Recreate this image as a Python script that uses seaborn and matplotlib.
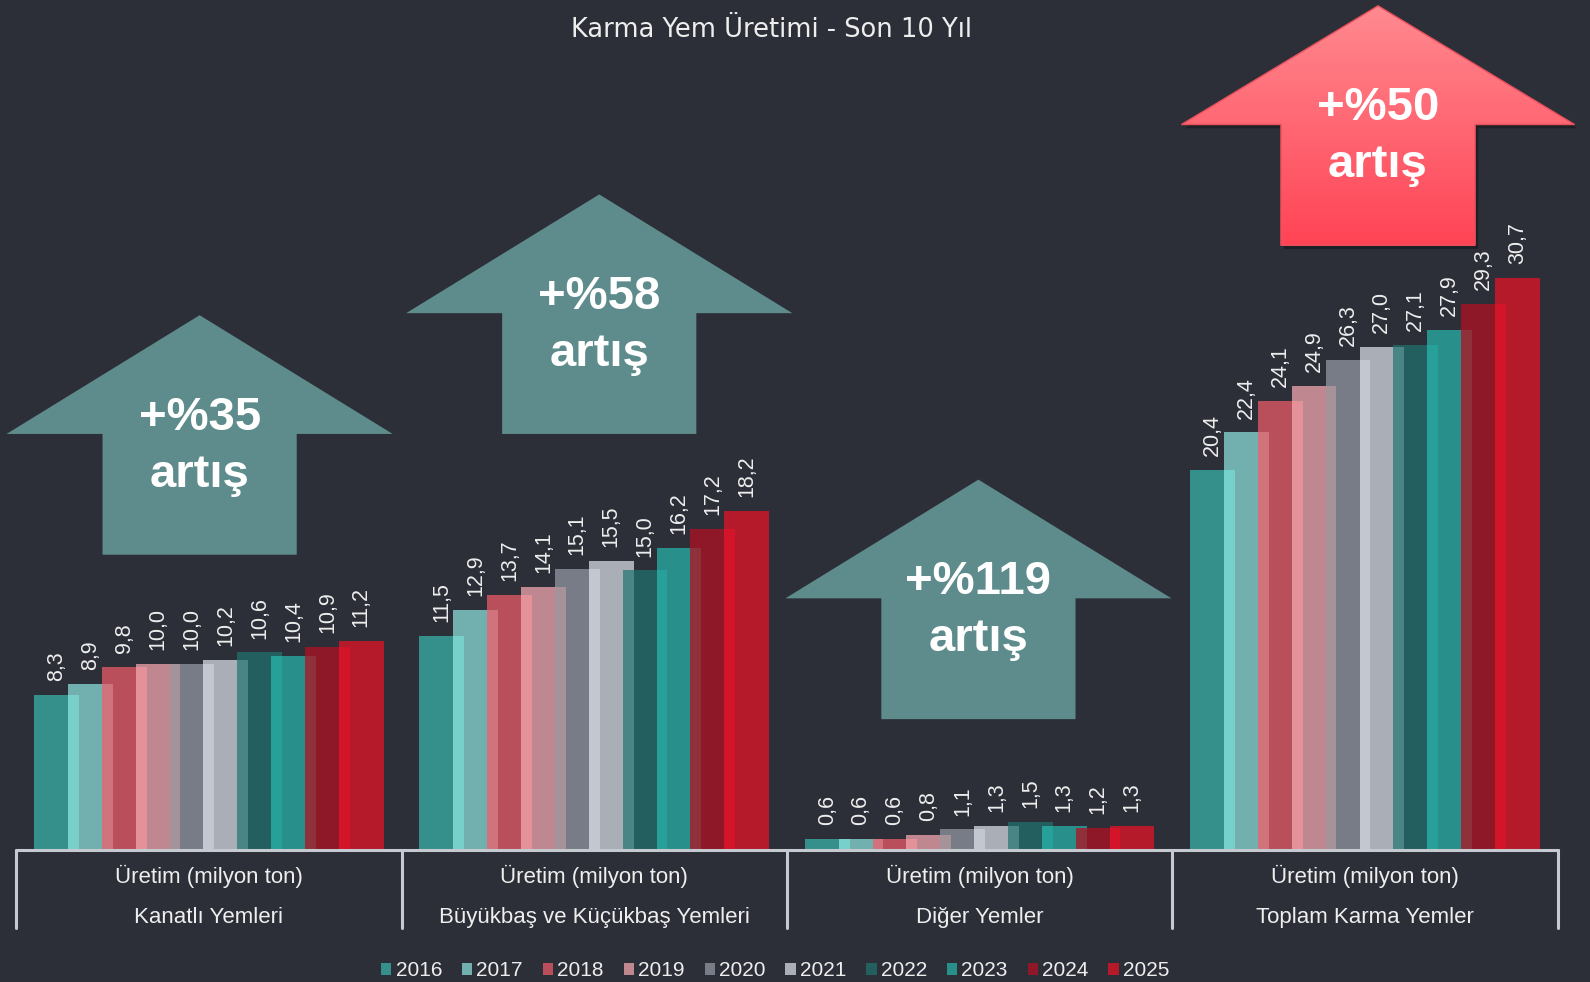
import numpy as np
import pandas as pd
import seaborn as sns
import matplotlib.pyplot as plt
from matplotlib.patches import Polygon, Patch
from matplotlib.colors import LinearSegmentedColormap

# data
years = ['2016', '2017', '2018', '2019', '2020', '2021', '2022', '2023', '2024', '2025']
groups = ['Kanatlı Yemleri', 'Büyükbaş ve Küçükbaş Yemleri', 'Diğer Yemler', 'Toplam Karma Yemler']
kanatli = [8.3, 8.9, 9.8, 10.0, 10.0, 10.2, 10.6, 10.4, 10.9, 11.2]
buyukbas = [11.5, 12.9, 13.7, 14.1, 15.1, 15.5, 15.0, 16.2, 17.2, 18.2]
diger = [0.6, 0.6, 0.6, 0.8, 1.1, 1.3, 1.5, 1.3, 1.2, 1.3]
toplam = [20.4, 22.4, 24.1, 24.9, 26.3, 27.0, 27.1, 27.9, 29.3, 30.7]
artis = ['+%35', '+%58', '+%119', '+%50']

colors = ['#35908c', '#71b0ae', '#b94f5a', '#bf8890', '#787c86',
          '#aaaeb6', '#245f5f', '#288f8a', '#8e1828', '#b41a2a']
# lighter tone where a bar overlaps the previous one
strip_colors = [None, '#78d0cb', '#d0737c', '#e5919a', '#a69399',
                '#c3c7d0', '#4a8585', '#26a098', '#8f313b', '#d41428']

BG = '#2c2f37'
TXT = '#eeeeee'

sns.set_style('dark', {'axes.facecolor': BG, 'figure.facecolor': BG})
plt.rcParams['font.family'] = ['Liberation Sans', 'DejaVu Sans']

df = pd.DataFrame({
    'grup': np.repeat(groups, len(years)),
    'yil': years * len(groups),
    'deger': kanatli + buyukbas + diger + toplam,
})

fig = plt.figure(figsize=(15.9, 9.82), dpi=100)
ax = fig.add_axes([16.2 / 1590, 1 - 850 / 982, (1557.6 - 16.2) / 1590, 850 / 982])

sns.barplot(data=df, x='grup', y='deger', hue='yil', order=groups, hue_order=years,
            palette=colors, width=0.879, saturation=1, linewidth=0, legend=False, ax=ax)

# widen bars so neighbours overlap a little (pseudo 3d look)
W = 0.116
for cont in ax.containers:
    for bar in cont:
        c = bar.get_x() + bar.get_width() / 2
        bar.set_x(c - W / 2)
        bar.set_width(W)

for i in range(1, len(ax.containers)):
    for prev, cur in zip(ax.containers[i - 1], ax.containers[i]):
        x0 = cur.get_x()
        x1 = prev.get_x() + prev.get_width()
        h = min(prev.get_height(), cur.get_height())
        ax.bar(x0, h, width=x1 - x0, align='edge', color=strip_colors[i], linewidth=0, zorder=3)

for cont in ax.containers[:len(years)]:
    labels = [f'{b.get_height():.1f}'.replace('.', ',') for b in cont]
    ax.bar_label(cont, labels=labels, rotation=90, padding=10, fontsize=15.5, color=TXT)

ax.set_xlim(-0.5, 3.5)
ax.set_ylim(0, 45.6)
ax.set_yticks([])
ax.set_xlabel('')
ax.set_ylabel('')
for s in ax.spines.values():
    s.set_visible(False)

ax.set_xticks(range(len(groups)))
ax.set_xticklabels(['Üretim (milyon ton)\n' + g for g in groups], fontsize=16, color=TXT,
                   linespacing=2.15)
ax.tick_params(axis='x', length=0, pad=11)

tr = ax.get_xaxis_transform()
ax.plot([-0.5, 3.5], [0, 0], transform=tr, color='#c5c9d0', lw=2.2, clip_on=False, zorder=4)
for xb in np.arange(-0.5, 4):
    ax.plot([xb, xb], [0, -0.092], transform=tr, color='#c5c9d0', lw=2.2, clip_on=False)


def arrow_pts(cx, tip, hw=0.501, sw=0.252, hh=6.37, sh=6.48):
    base = tip - hh
    bot = base - sh
    return [(cx, tip), (cx + hw, base), (cx + sw, base), (cx + sw, bot),
            (cx - sw, bot), (cx - sw, base), (cx - hw, base)]


arrow_x = [-0.024, 1.013, 1.997, 3.034]
arrow_tip = [28.69, 35.17, 19.87, 45.29]
for k in range(3):
    ax.add_patch(Polygon(arrow_pts(arrow_x[k], arrow_tip[k]), closed=True,
                         facecolor='#5e8b8b', edgecolor='none', zorder=5, clip_on=False))

# red arrow with gradient
pts = arrow_pts(arrow_x[3], arrow_tip[3], hw=0.51)
ax.add_patch(Polygon([(x + 0.008, y - 0.2) for x, y in pts], closed=True, clip_on=False,
                     facecolor='black', alpha=0.3, edgecolor='none', zorder=4))
red = Polygon(pts, closed=True, facecolor='none', edgecolor='#e8505c', lw=1, zorder=6,
              clip_on=False)
ax.add_patch(red)
cmap = LinearSegmentedColormap.from_list('r', ['#ff8a90', '#ff4456'])
xs = [p[0] for p in pts]
ys = [p[1] for p in pts]
im = ax.imshow(np.linspace(0, 1, 256).reshape(-1, 1), cmap=cmap, aspect='auto',
               extent=[min(xs), max(xs), min(ys), max(ys)], origin='upper', zorder=5)
im.set_clip_box(fig.bbox)
im.set_clip_path(red)
ax.set_xlim(-0.5, 3.5)
ax.set_ylim(0, 45.6)

for k in range(4):
    ax.text(arrow_x[k], arrow_tip[k] - 5.5, artis[k], ha='center', va='center',
            fontsize=34, fontweight='bold', color='white', zorder=7)
    ax.text(arrow_x[k], arrow_tip[k] - 8.55, 'artış', ha='center', va='center',
            fontsize=34, fontweight='bold', color='white', zorder=7)

fig.text(0.485, 0.969, 'Karma Yem Üretimi - Son 10 Yıl', ha='center', va='center',
         fontsize=18.5, color=TXT, family='DejaVu Sans')

handles = [Patch(facecolor=c, edgecolor='none') for c in colors]
fig.legend(handles, years, loc='center', bbox_to_anchor=(0.4875, 11 / 982), ncol=10,
           frameon=False, fontsize=15, labelcolor=TXT, handlelength=0.5, handleheight=0.5,
           handletextpad=0.2, columnspacing=0.95)

fig.savefig('out.png', dpi=100, facecolor=BG)
